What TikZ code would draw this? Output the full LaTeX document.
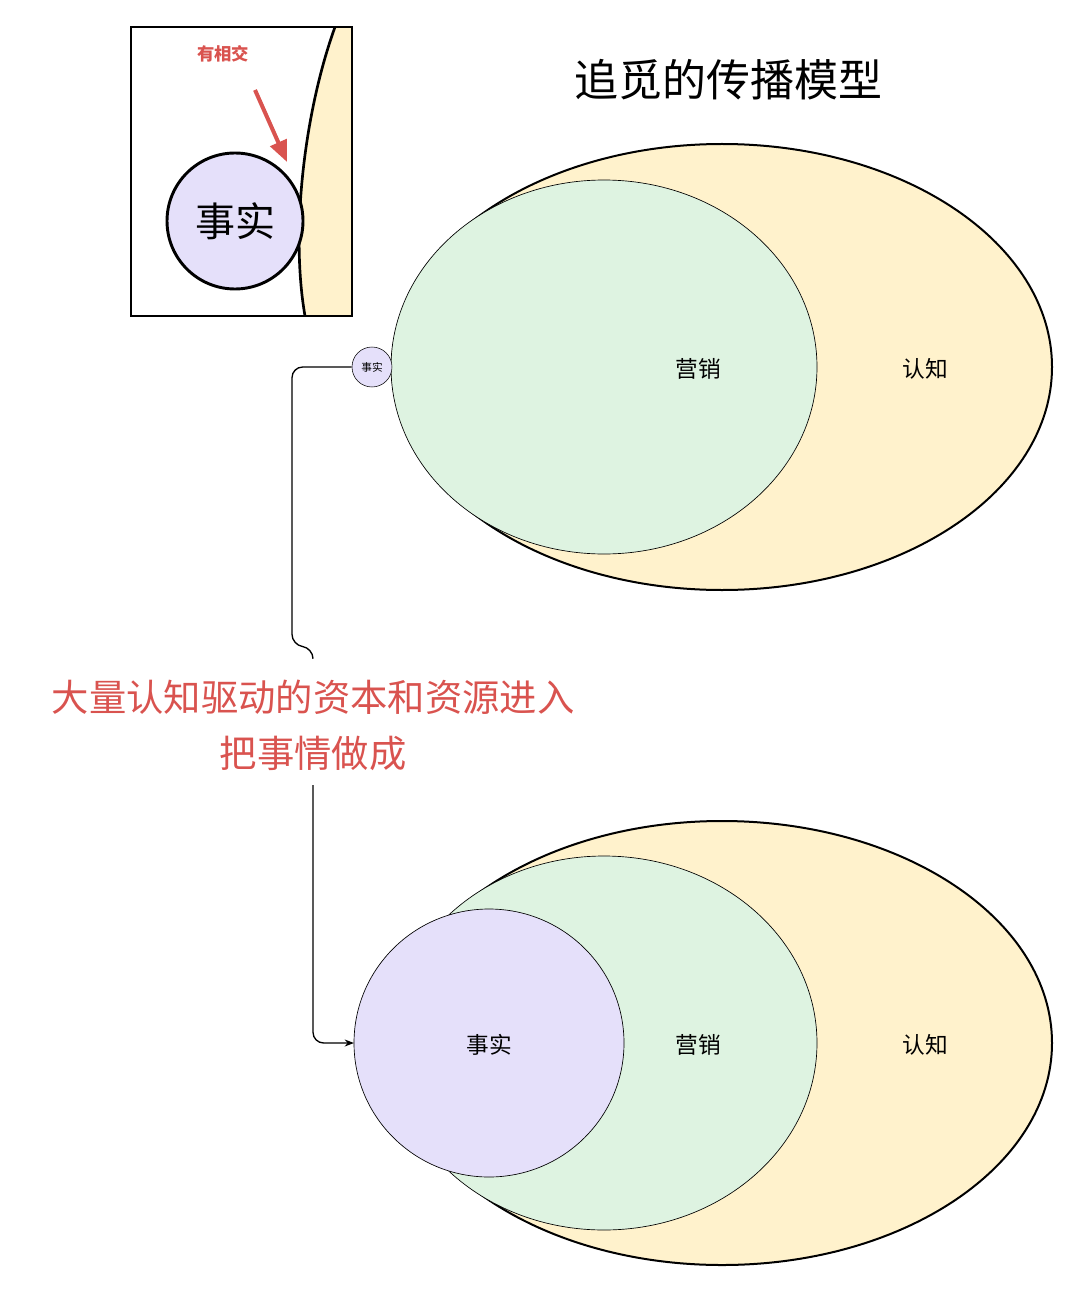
\documentclass[tikz,border=0pt]{standalone}
\usepackage{fontspec}
\setmainfont{Noto Sans CJK SC}
\usetikzlibrary{arrows.meta}
\definecolor{yel}{HTML}{FFF2CC}
\definecolor{grn}{HTML}{DEF3E1}
\definecolor{pur}{HTML}{E5E0FA}
\definecolor{redt}{HTML}{D9534F}
\begin{document}
\begin{tikzpicture}[x=0.75pt,y=-0.75pt,
  lab/.style={font=\fontsize{17}{20}\selectfont},
  redlab/.style={text=redt,font=\fontsize{28}{42}\selectfont,align=center}]
\useasboundingbox (0,0) rectangle (1080,1294);
% top
\draw[fill=yel,line width=1.5pt] (722,367) ellipse (330 and 223);
\draw[fill=grn,line width=0.5pt] (604,367) ellipse (213 and 187);
\node[lab] (c1) at (925,369) {认知};
\node[lab] (m1) at (698,369) {营销};
\node[circle,draw,fill=pur,minimum size=40*0.75pt,inner sep=0pt,font=\fontsize{8}{9}\selectfont] (f1) at (372,367) {事实};
% bottom
\draw[fill=yel,line width=1.5pt] (722,1043) ellipse (330 and 222);
\draw[fill=grn,line width=0.5pt] (604,1043) ellipse (213 and 187);
\draw[fill=pur,line width=0.5pt] (489,1043) ellipse (135 and 134);
\node[lab] (c2) at (925,1045) {认知};
\node[lab] (m2) at (698,1045) {营销};
\node[lab] (f2) at (489,1045) {事实};
\coordinate (f2w) at (354,1043);
% title
\node[font=\fontsize{33}{36}\selectfont] (title) at (728,80) {追觅的传播模型};
% red label
\node[redlab] (txt) at (313,725) {大量认知驱动的资本和资源进入\\把事情做成};
% connectors
\draw[line width=1pt,rounded corners=8pt] (f1.west) -- (292,367) -- (292,645) -- (313,648) -- (313,658);
\draw[line width=1pt,rounded corners=8pt,-{Stealth[length=7pt,open]}] (313,785) -- (313,1043) -- (f2w);
% inset
\begin{scope}
\clip (131,27) rectangle (352,316);
\fill[yel] (335,27) .. controls (305,110) and (290,230) .. (305,316) -- (360,316) -- (360,27) -- cycle;
\draw[line width=2pt] (335,27) .. controls (305,110) and (290,230) .. (305,316);
\end{scope}
\draw[line width=1.5pt] (131,27) rectangle (352,316);
\node[circle,draw,line width=2.2pt,fill=pur,minimum size=136*0.75pt,inner sep=0pt,font=\fontsize{30}{32}\selectfont] (f3) at (235,221) {事实};
\node[text=redt,font=\bfseries\fontsize{13}{14}\selectfont] (xj) at (223,54) {有相交};
\coordinate (ar) at (287,162);
\draw[redt,line width=3pt,-{Triangle[length=16pt,width=13pt]}] (255,90) -- (ar);
\end{tikzpicture}
\end{document}
